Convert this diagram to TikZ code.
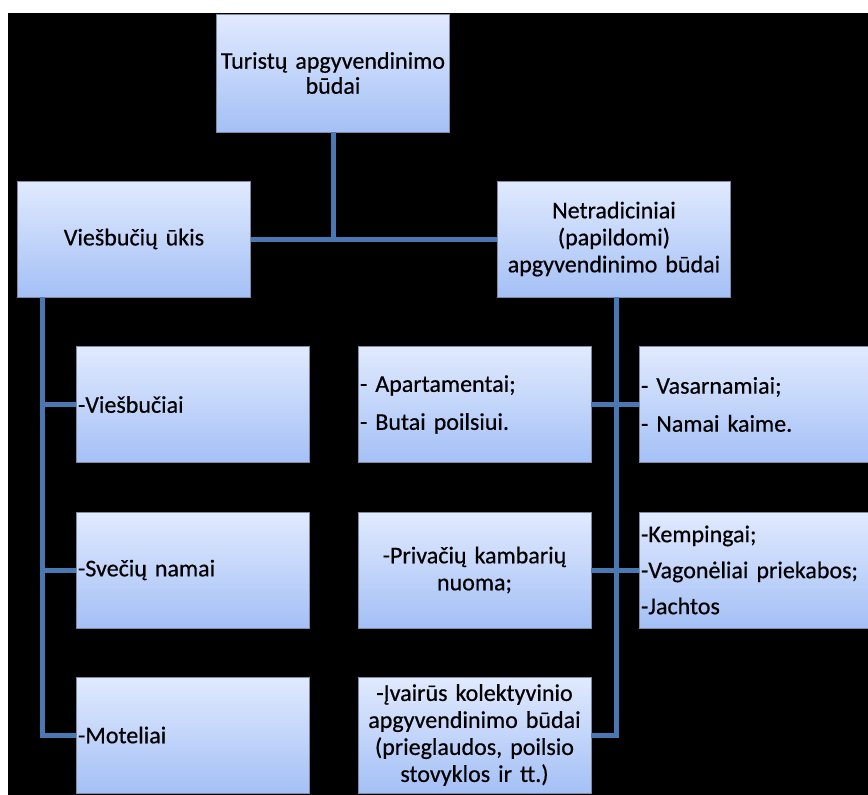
\documentclass[tikz,border=0pt]{standalone}
\usepackage{fontspec}
\setmainfont{Carlito}[WordSpace=0.6,FakeBold=0.5]
\definecolor{boxtop}{HTML}{E1EAFE}
\definecolor{boxbot}{HTML}{A4C0F6}
\definecolor{boxline}{HTML}{7F8BA3}
\definecolor{linkblue}{HTML}{4A78B2}
\begin{document}
\begin{tikzpicture}[x=1pt,y=-1pt,
  box/.style={draw=boxline,line width=0.8pt,top color=boxtop,bottom color=boxbot,
    minimum height=116pt,inner xsep=2pt,inner ysep=0pt,text width=229pt,
    font=\fontsize{24}{27}\selectfont},
  lbox/.style={box,align=left},
  cbox/.style={box,align=center},
  link/.style={draw=linkblue,line width=5pt}]
  \useasboundingbox (0,0) rectangle (868,795);
  \fill[white] (0,0) rectangle (868,795);
  \fill[black] (8,13) rectangle (868,795);

  \node[cbox,minimum height=118pt,font=\fontsize{24}{25}\selectfont] (root) at (333,73) {Turistų apgyvendinimo\\būdai};
  \node[cbox] (hotel) at (134,239) {Viešbučių ūkis};
  \node[cbox] (extra) at (614,239) {Netradiciniai\\(papildomi)\\apgyvendinimo būdai};

  \node[lbox] (h1) at (192.5,404.5) {-Viešbučiai};
  \node[lbox] (h2) at (192.5,570) {-Svečių namai};
  \node[lbox] (h3) at (192.5,735) {-Moteliai};

  \node[lbox] (e1) at (474.5,404.5) {- Apartamentai;\\[11pt]- Butai poilsiui.};
  \node[cbox] (e2) at (474.5,570) {-Privačių kambarių\\nuoma;};
  \node[cbox] (e3) at (474.5,735) {-Įvairūs kolektyvinio\\apgyvendinimo būdai\\(prieglaudos, poilsio\\stovyklos ir tt.)};
  \node[lbox] (e4) at (755.5,404.5) {- Vasarnamiai;\\[11pt]- Namai kaime.};
  \node[lbox] (e5) at (755.5,570) {-Kempingai;\\[9pt]-Vagonėliai priekabos;\\[9pt]-Jachtos};

  \coordinate (hv) at ([xshift=25pt]hotel.south west);
  \coordinate (ev) at ([xshift=2pt]extra.south);

  \draw[link] (root.south) -- (root.south |- hotel.east);
  \draw[link] (hotel.east) -- (extra.west);
  \draw[link] (hv) |- (h3.west);
  \draw[link] (hv |- h1.west) -- (h1.west);
  \draw[link] (hv |- h2.west) -- (h2.west);
  \draw[link] (ev) |- (e3.east);
  \draw[link] (e1.east) -- (e4.west);
  \draw[link] (e2.east) -- (e5.west);
\end{tikzpicture}
\end{document}
